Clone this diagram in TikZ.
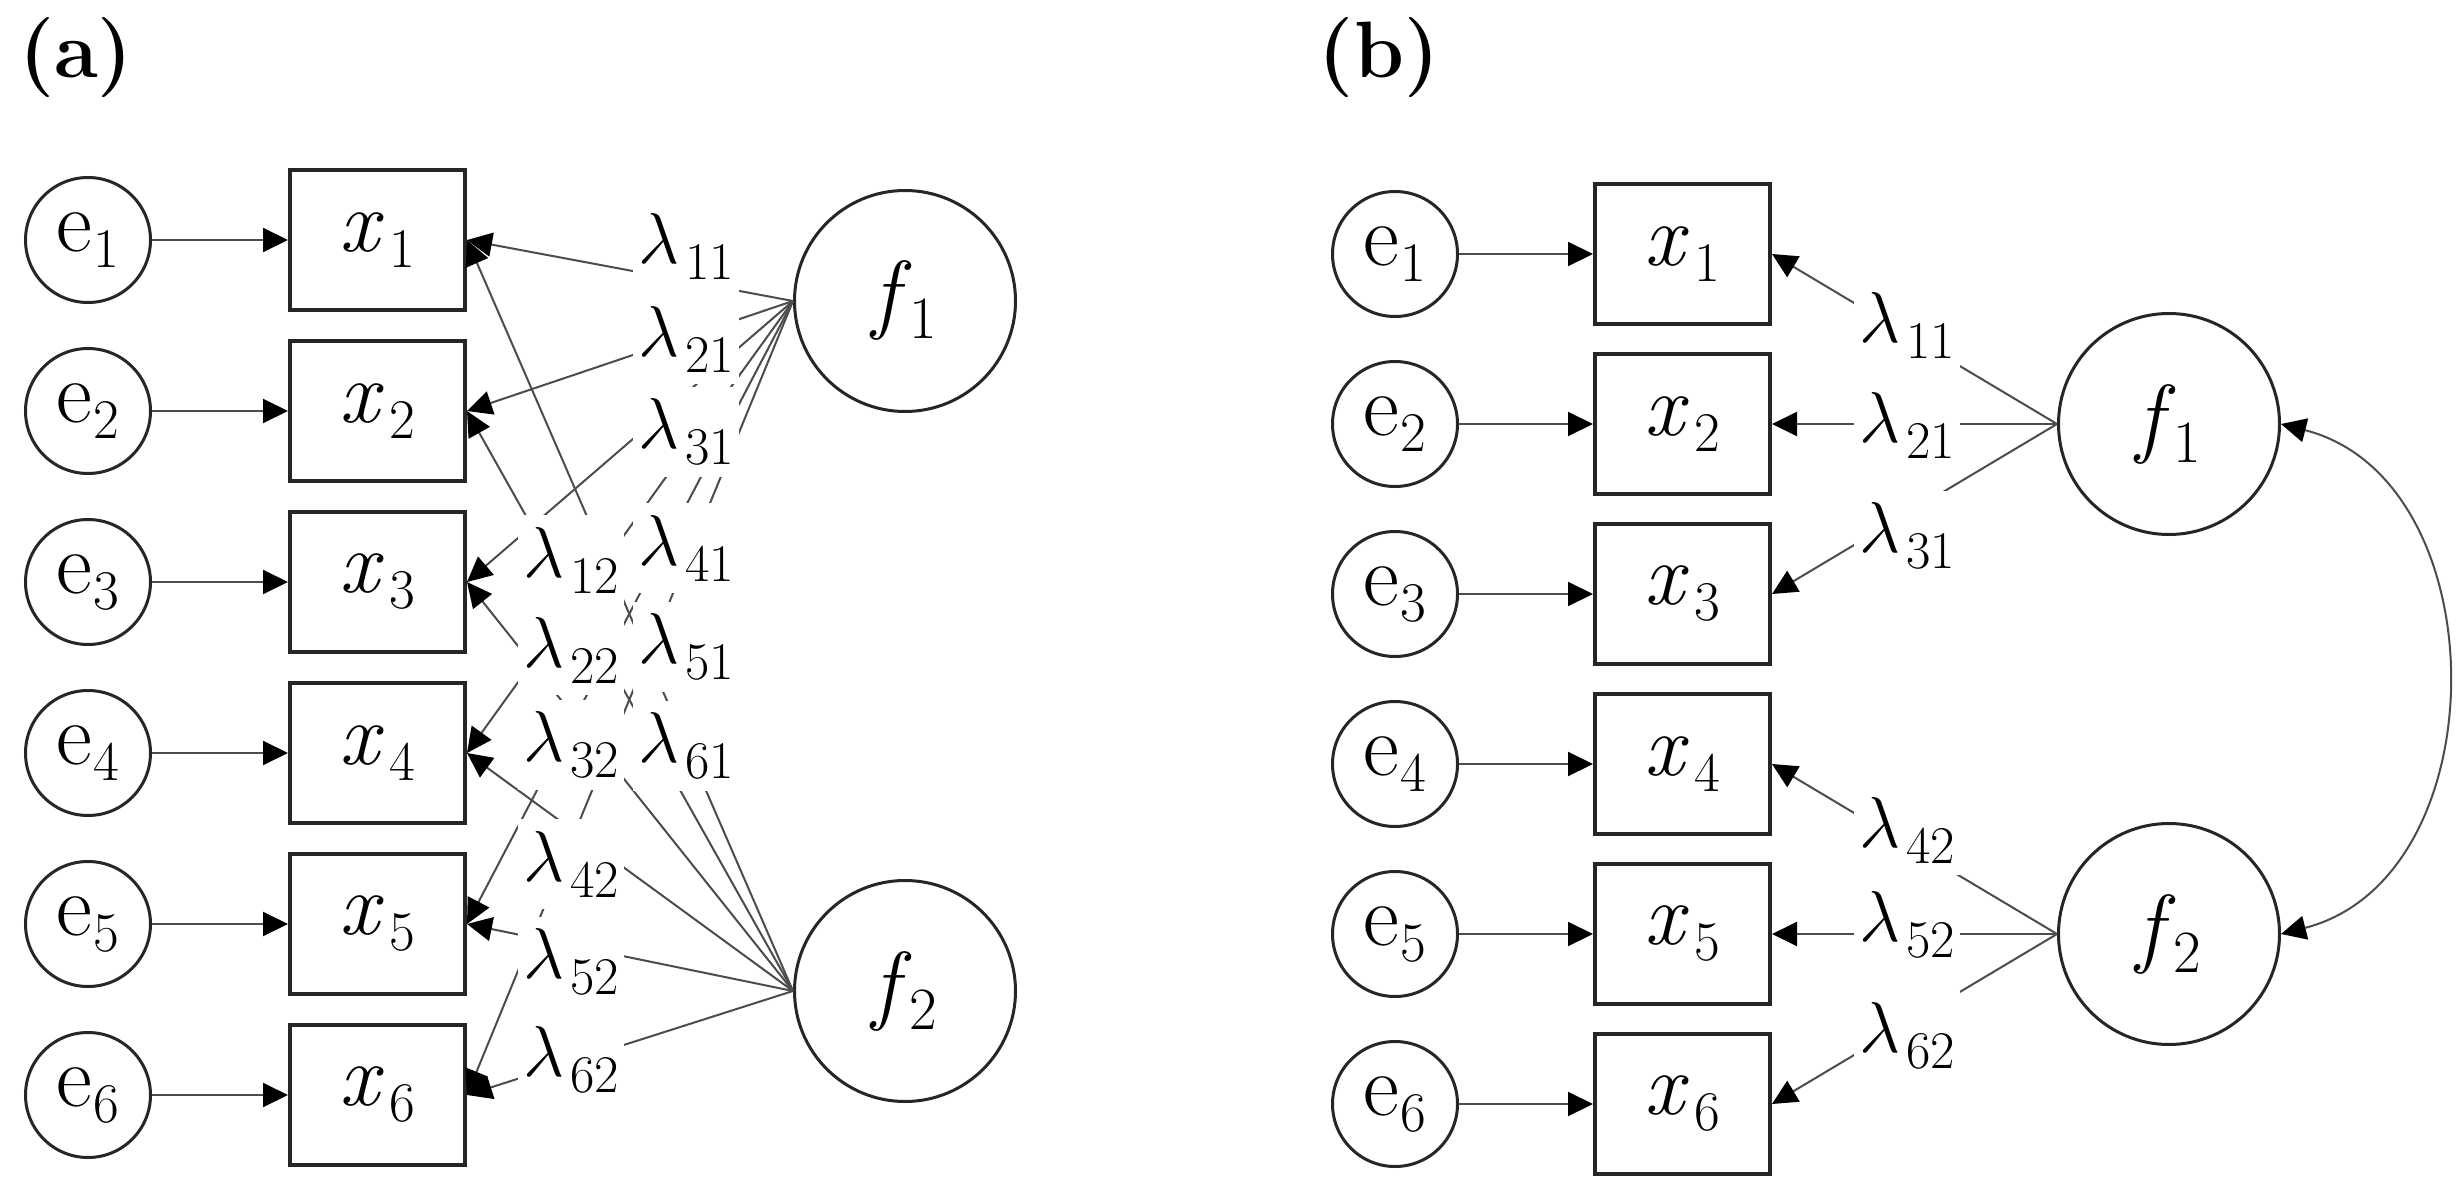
\RequirePackage{fix-cm}
\documentclass[tikz,border=0pt]{standalone}
\usepackage{fontspec}
\usetikzlibrary{arrows.meta}
\newcommand\evar[1]{\fontsize{88}{90}\selectfont e\kern1pt\raisebox{-16pt}{\fontsize{56}{56}\selectfont #1}}
\newcommand\xvar[1]{\fontsize{88}{90}\selectfont\textit{x}\kern6pt\raisebox{-16pt}{\fontsize{56}{56}\selectfont #1}}
\newcommand\fvar[1]{\fontsize{88}{90}\selectfont\textit{f}\kern-2pt\raisebox{-16pt}{\fontsize{60}{60}\selectfont #1}}
\newcommand\lvar[1]{\fontsize{72}{80}\selectfont $\lambda$\kern6pt\raisebox{-16pt}{\fontsize{53}{53}\selectfont #1}}
\tikzset{
  err/.style={circle, draw=black!85, line width=3pt, minimum size=125pt, inner sep=0pt},
  obs/.style={rectangle, draw=black!85, line width=4pt, minimum width=175pt, minimum height=140pt, inner sep=0pt},
  lat/.style={circle, draw=black!85, line width=3pt, minimum size=221pt, inner sep=0pt},
  lab/.style={fill=white, inner sep=0pt, minimum width=106pt, minimum height=90pt},
  conn/.style={line width=2pt, draw=black!70, -{Triangle[length=25pt,width=24pt,color=black]}},
  dconn/.style={line width=2pt, draw=black!70, {Triangle[length=25pt,width=24pt,color=black]}-{Triangle[length=25pt,width=24pt,color=black]}},
  ttl/.style={inner sep=0pt, font=\fontsize{80}{82}\selectfont\bfseries}
}
\begin{document}
\begin{tikzpicture}[x=1pt,y=-1pt]
\useasboundingbox[fill=white] (0,0) rectangle (2460,1198);
% panel (a)
\node[ttl] (ta) at (76,58) {(a)};
\foreach \i/\y in {1/240,2/411,3/582,4/753,5/924,6/1095} {
  \node[err] (ea\i) at (88,\y) {\evar{\i}};
  \node[obs] (xa\i) at (377.5,\y) {\xvar{\i}};
  \draw[conn] (ea\i) -- (xa\i);
}
\node[lat] (fa1) at (905,301) {\fvar{1}};
\node[lat] (fa2) at (905,991) {\fvar{2}};
\foreach \i in {1,...,6} {
  \draw[conn] (fa1.west) -- (xa\i.east);
  \draw[conn] (fa2.west) -- (xa\i.east);
}
\foreach \n/\y in {11/247,21/339,31/432,41/548,51/647,61/746}
  \node[lab] (la\n) at (686,\y) {\lvar{\n}};
\foreach \n/\y in {12/560,22/650,32/745,42/864,52/962,62/1060}
  \node[lab] (la\n) at (571,\y) {\lvar{\n}};
% panel (b)
\node[ttl] (tb) at (1379,58) {(b)};
\foreach \i/\y in {1/254,2/424,3/594,4/764,5/934,6/1104} {
  \node[err] (eb\i) at (1395,\y) {\evar{\i}};
  \node[obs] (xb\i) at (1682.5,\y) {\xvar{\i}};
  \draw[conn] (eb\i) -- (xb\i);
}
\node[lat] (fb1) at (2169,424) {\fvar{1}};
\node[lat] (fb2) at (2169,934) {\fvar{2}};
\foreach \i in {1,2,3} \draw[conn] (fb1.west) -- (xb\i.east);
\foreach \i in {4,5,6} \draw[conn] (fb2.west) -- (xb\i.east);
\foreach \n/\y in {11/325,21/425,31/536,42/830,52/925,62/1036}
  \node[lab] (lb\n) at (1907,\y) {\lvar{\n}};
\draw[dconn] (fb1.east) .. controls (2500,480) and (2500,878) .. (fb2.east);
\end{tikzpicture}
\end{document}
